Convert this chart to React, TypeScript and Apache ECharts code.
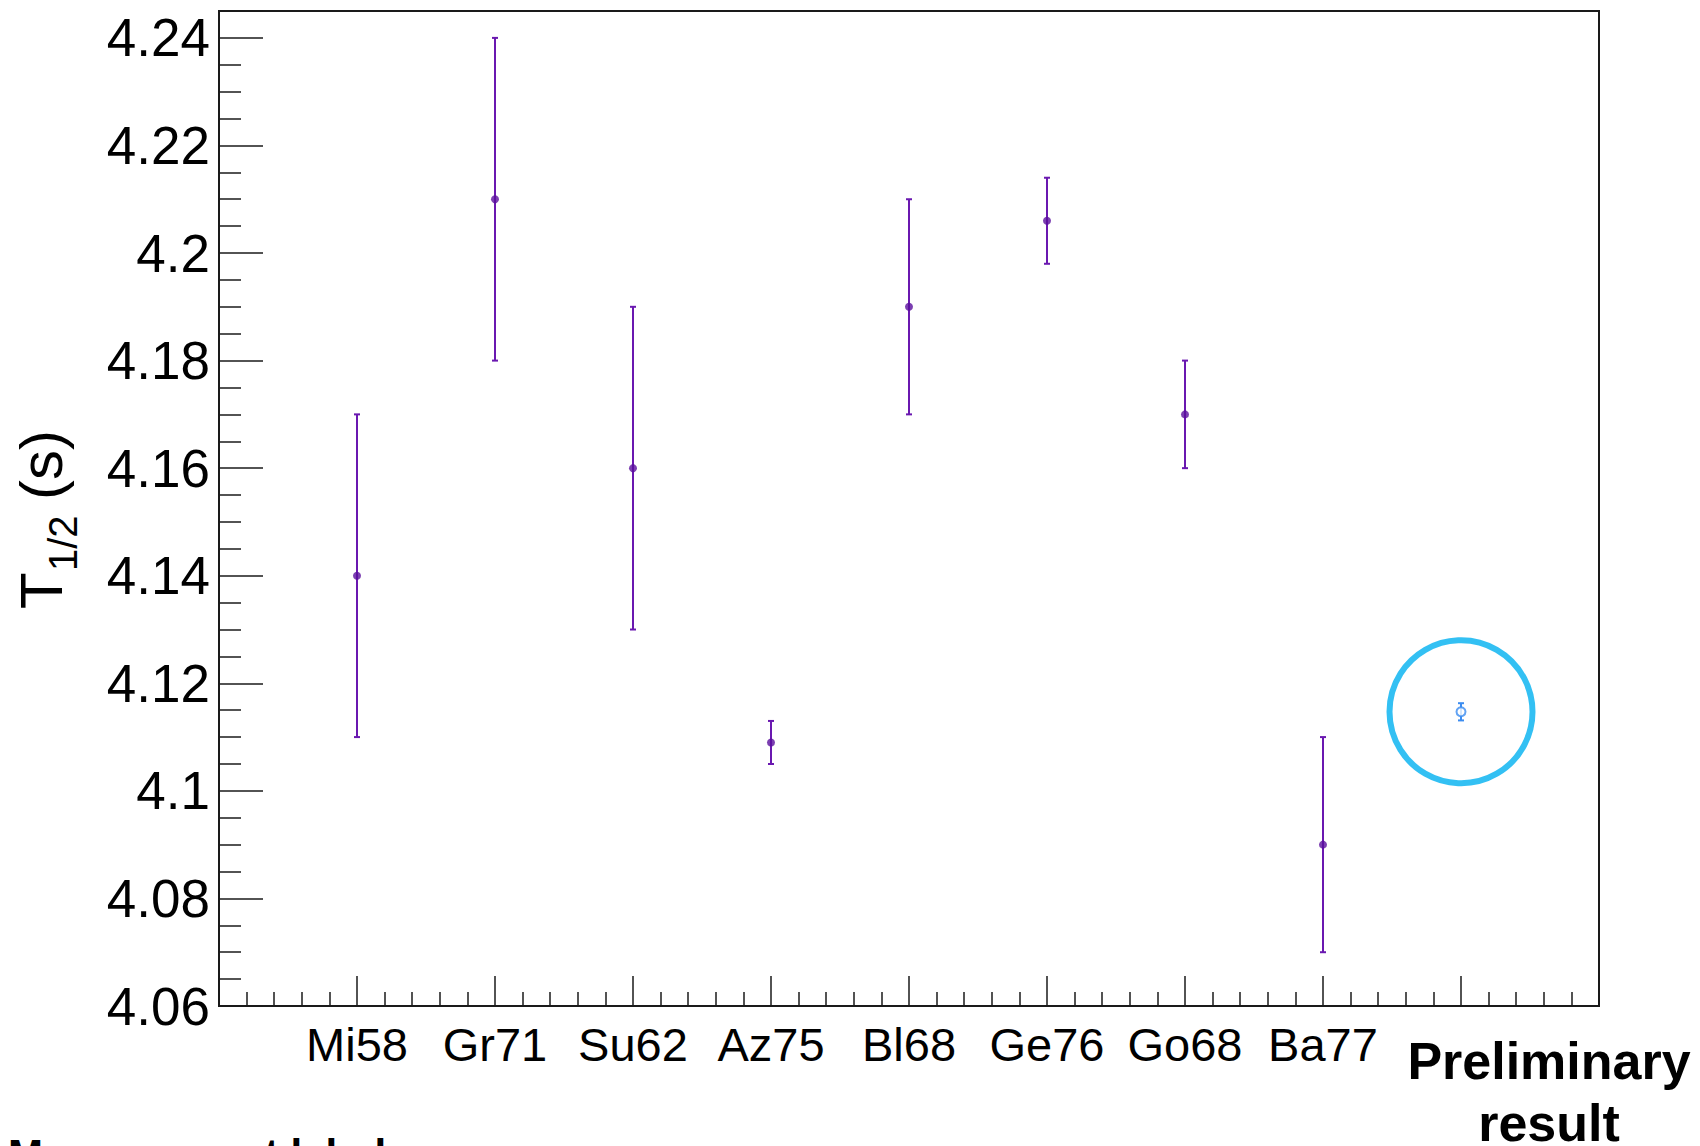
import React, { useEffect, useRef } from "react";
import * as echarts from "echarts";

// ---- data ----
const categories = ["Mi58", "Gr71", "Su62", "Az75", "Bl68", "Ge76", "Go68", "Ba77"];
const halfLives = [4.14, 4.21, 4.16, 4.109, 4.19, 4.206, 4.17, 4.09];
const halfLifeErrors = [0.03, 0.03, 0.03, 0.004, 0.02, 0.008, 0.01, 0.02];
const prelimLabel = ["Preliminary", "result"];
const prelimValue = [4.1147];
const prelimError = [0.0016];
const yTicks = { min: 4.06, max: 4.245, interval: 0.02 };
const xRange = { min: 0, max: 10, interval: 1 };

const FONT = "'Liberation Sans', Arial, Helvetica, sans-serif";
const PURPLE = "#6a18b0";
const BLUE = "#3b8cf0";
const CYAN = "#00b0f0";

function errorBarSeries(data: number[][], color: string, cap: number) {
  return {
    type: "custom",
    data,
    z: 2,
    renderItem: (_params: any, api: any) => {
      const x = api.value(0);
      const y = api.value(1);
      const e = api.value(2);
      const top = api.coord([x, y + e]);
      const bot = api.coord([x, y - e]);
      const style = { stroke: color, lineWidth: 2 };
      return {
        type: "group",
        children: [
          { type: "line", shape: { x1: top[0], y1: top[1], x2: bot[0], y2: bot[1] }, style },
          { type: "line", shape: { x1: top[0] - cap, y1: top[1], x2: top[0] + cap, y2: top[1] }, style },
          { type: "line", shape: { x1: bot[0] - cap, y1: bot[1], x2: bot[0] + cap, y2: bot[1] }, style },
        ],
      };
    },
  };
}

export default function App() {
  const ref = useRef<HTMLDivElement>(null);
  useEffect(() => {
    if (!ref.current) return;
    const chart = echarts.init(ref.current, null, { renderer: "svg" });

    const measData = halfLives.map((v, i) => [i + 1, v, halfLifeErrors[i]]);
    const measPoints = halfLives.map((v, i) => [i + 1, v]);
    const prelimX = categories.length + 1;
    const prelimData = prelimValue.map((v, i) => [prelimX, v, prelimError[i]]);
    const prelimPoints = prelimValue.map((v) => [prelimX, v]);

    const option: any = {
      animation: false,
      backgroundColor: "#ffffff",
      grid: {
        left: 219,
        right: 101,
        top: 11,
        bottom: 140,
        show: true,
        borderColor: "#1a1a1a",
        borderWidth: 2,
        containLabel: false,
        outerBoundsMode: "none",
      },
      xAxis: {
        type: "value",
        min: xRange.min,
        max: xRange.max,
        interval: xRange.interval,
        axisLine: { show: true, lineStyle: { color: "#1a1a1a", width: 2 } },
        axisTick: { show: true, inside: true, length: 30, lineStyle: { color: "#1a1a1a", width: 1.5 } },
        minorTick: { show: true, splitNumber: 5, length: 14, lineStyle: { color: "#1a1a1a", width: 1.5 } },
        splitLine: { show: false },
        axisLabel: {
          show: true,
          margin: 15,
          fontSize: 47,
          color: "#000",
          fontFamily: FONT,
          formatter: (v: number) => {
            const i = Math.round(v) - 1;
            return i >= 0 && i < categories.length ? categories[i] : "";
          },
        },
      },
      yAxis: {
        type: "value",
        min: yTicks.min,
        max: yTicks.max,
        interval: yTicks.interval,
        axisLine: { show: true, lineStyle: { color: "#1a1a1a", width: 2 } },
        axisTick: { show: true, inside: true, length: 44, lineStyle: { color: "#1a1a1a", width: 1.5 } },
        minorTick: { show: true, splitNumber: 4, length: 22, lineStyle: { color: "#1a1a1a", width: 1.5 } },
        splitLine: { show: false },
        axisLabel: {
          show: true,
          margin: 9,
          fontSize: 53,
          color: "#000",
          fontFamily: FONT,
          showMaxLabel: false,
          formatter: (v: number) => String(Math.round(v * 1000) / 1000),
        },
      },
      series: [
        errorBarSeries(measData, PURPLE, 3),
        {
          type: "scatter",
          data: measPoints,
          symbol: "circle",
          symbolSize: 8,
          itemStyle: { color: "#5a0f9e" },
          z: 3,
        },
        errorBarSeries(prelimData, BLUE, 3),
        {
          type: "scatter",
          data: prelimPoints,
          symbol: "circle",
          symbolSize: 9,
          itemStyle: { color: "#ffffff", borderColor: BLUE, borderWidth: 2 },
          z: 3,
        },
        {
          type: "scatter",
          data: prelimPoints,
          symbol: "circle",
          symbolSize: 143,
          itemStyle: { color: "rgba(0,0,0,0)", borderColor: CYAN, borderWidth: 6 },
          z: 4,
          silent: true,
        },
      ],
      graphic: [
        {
          type: "group",
          x: 41,
          y: 520,
          rotation: Math.PI / 2,
          children: [
            { type: "text", x: -89, y: 0, style: { text: "T", fontSize: 60, fontFamily: FONT, fill: "#000", align: "left", verticalAlign: "middle" } },
            { type: "text", x: -51, y: 22, style: { text: "1/2", fontSize: 40, fontFamily: FONT, fill: "#000", align: "left", verticalAlign: "middle" } },
            { type: "text", x: 20, y: 0, style: { text: "(s)", fontSize: 60, fontFamily: FONT, fill: "#000", align: "left", verticalAlign: "middle" } },
          ],
        },
        {
          type: "text",
          x: 1549,
          y: 1061,
          style: { text: prelimLabel[0], fontSize: 52, fontWeight: "bold", fontFamily: FONT, fill: "#000", align: "center", verticalAlign: "middle" },
        },
        {
          type: "text",
          x: 1549,
          y: 1123,
          style: { text: prelimLabel[1], fontSize: 52, fontWeight: "bold", fontFamily: FONT, fill: "#000", align: "center", verticalAlign: "middle" },
        },
        {
          type: "text",
          x: 8,
          y: 1154,
          style: { text: "Measurement label", fontSize: 42, fontWeight: "bold", fontFamily: FONT, fill: "#000", align: "left", verticalAlign: "middle" },
        },
      ],
    };
    chart.setOption(option);
    return () => chart.dispose();
  }, []);

  return (
    <div
      ref={ref}
      style={{ position: "fixed", left: 0, top: 0, width: 1700, height: 1146, background: "#fff" }}
    />
  );
}
